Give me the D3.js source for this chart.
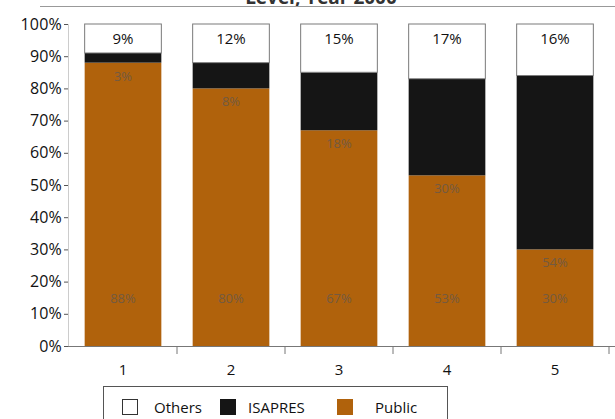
<!DOCTYPE html>
<html>
<head>
<meta charset="utf-8">
<script src="https://cdn.jsdelivr.net/npm/d3@7"></script>
<style>
  html, body { margin: 0; padding: 0; background: #fff; }
  svg { display: block; }
  text { font-family: "Open Sans", "DejaVu Sans", sans-serif; }
</style>
</head>
<body>
<svg id="chart" width="615" height="419"></svg>
<script>
// Health insurance coverage by income quintile
const quintiles = ["1", "2", "3", "4", "5"];
const publicShare = [88, 80, 67, 53, 30];
const isapresShare = [3, 8, 18, 30, 54];
const othersShare = [9, 12, 15, 17, 16];
const yTicks = [0, 10, 20, 30, 40, 50, 60, 70, 80, 90, 100];
const seriesNames = ["Others", "ISAPRES", "Public"];
const titleText = "Level, Year 2000";

const colors = { Public: "#b0620c", ISAPRES: "#151515", Others: "#ffffff" };

const svg = d3.select("#chart");

const x = d3.scaleBand()
  .domain(quintiles)
  .range([69, 609])
  .paddingInner(0.29)
  .paddingOuter(0.145);

const y = d3.scaleLinear().domain([0, 100]).range([346, 24]);

// Title, running off the top edge
svg.append("text")
  .attr("x", 321).attr("y", 4)
  .attr("text-anchor", "middle")
  .attr("font-size", 19).attr("font-weight", "bold")
  .attr("fill", "#333")
  .text(titleText);
svg.append("line")
  .attr("x1", 40).attr("x2", 615).attr("y1", 6.5).attr("y2", 6.5)
  .attr("stroke", "#999").attr("stroke-width", 1);

// Stack the three shares per quintile
const rows = quintiles.map((q, i) => ({
  q, Public: publicShare[i], ISAPRES: isapresShare[i], Others: othersShare[i]
}));
const stack = d3.stack().keys(["Public", "ISAPRES", "Others"]);
const layers = stack(rows);

const g = svg.append("g");
layers.forEach(layer => {
  g.selectAll(null)
    .data(layer)
    .enter().append("rect")
    .attr("x", d => x(d.data.q))
    .attr("width", x.bandwidth())
    .attr("y", d => y(d[1]))
    .attr("height", d => y(d[0]) - y(d[1]))
    .attr("fill", colors[layer.key])
    .attr("stroke", layer.key === "Others" ? "#7a7a7a" : "none")
    .attr("stroke-width", 1);
});

// Value labels
const cx = q => x(q) + x.bandwidth() / 2;
const inner = "#735a40";
g.selectAll(".lblOthers").data(rows).enter().append("text")
  .attr("x", d => cx(d.q)).attr("y", y(100) + 20)
  .attr("text-anchor", "middle").attr("font-size", 15).attr("fill", "#111")
  .text(d => d.Others + "%");
g.selectAll(".lblIsapres").data(rows).enter().append("text")
  .attr("x", d => cx(d.q)).attr("y", d => y(d.Public) + 18)
  .attr("text-anchor", "middle").attr("font-size", 13).attr("fill", inner)
  .text(d => d.ISAPRES + "%");
g.selectAll(".lblPublic").data(rows).enter().append("text")
  .attr("x", d => cx(d.q)).attr("y", y(15) + 5)
  .attr("text-anchor", "middle").attr("font-size", 13).attr("fill", inner)
  .text(d => d.Public + "%");

// Y axis
const yAxis = svg.append("g").attr("transform", "translate(68,0)")
  .call(d3.axisLeft(y).tickValues(yTicks).tickFormat(d => d + "%").tickSize(4).tickPadding(2));
yAxis.select(".domain").attr("stroke", "#ccc");
yAxis.selectAll(".tick line").attr("stroke", "#555");
yAxis.selectAll(".tick text").attr("font-size", 16).attr("fill", "#111")
  .attr("font-family", "'Open Sans', sans-serif").attr("letter-spacing", "0.2");

// X axis with ticks at band boundaries
const xg = svg.append("g").attr("transform", "translate(0,346)");
xg.append("line").attr("x1", 68).attr("x2", 615).attr("y1", 0.5).attr("y2", 0.5)
  .attr("stroke", "#777").attr("stroke-width", 1);
const boundaries = quintiles.map(q => x(q) + x.bandwidth() + x.step() * x.paddingInner() / 2);
xg.selectAll(".b").data(boundaries).enter().append("line")
  .attr("x1", d => d).attr("x2", d => d).attr("y1", 0).attr("y2", 8)
  .attr("stroke", "#777").attr("stroke-width", 1);
xg.selectAll(".lbl").data(quintiles).enter().append("text")
  .attr("x", d => cx(d)).attr("y", 29)
  .attr("text-anchor", "middle").attr("font-size", 15).attr("fill", "#111")
  .text(d => d);

// Legend
const lg = svg.append("g");
lg.append("rect").attr("x", 103.5).attr("y", 386.5).attr("width", 344).attr("height", 40)
  .attr("fill", "#fff").attr("stroke", "#555").attr("stroke-width", 1);
const legendItems = [
  { name: seriesNames[0], sx: 122, tx: 154 },
  { name: seriesNames[1], sx: 220, tx: 248 },
  { name: seriesNames[2], sx: 337, tx: 375 }
];
legendItems.forEach(it => {
  lg.append("rect").attr("x", it.sx + 0.5).attr("y", 399.5).attr("width", 15).attr("height", 15)
    .attr("fill", colors[it.name])
    .attr("stroke", it.name === "Others" ? "#333" : colors[it.name]);
  lg.append("text").attr("x", it.tx).attr("y", 413)
    .attr("font-size", 15).attr("fill", "#111").text(it.name);
});
</script>
</body>
</html>
